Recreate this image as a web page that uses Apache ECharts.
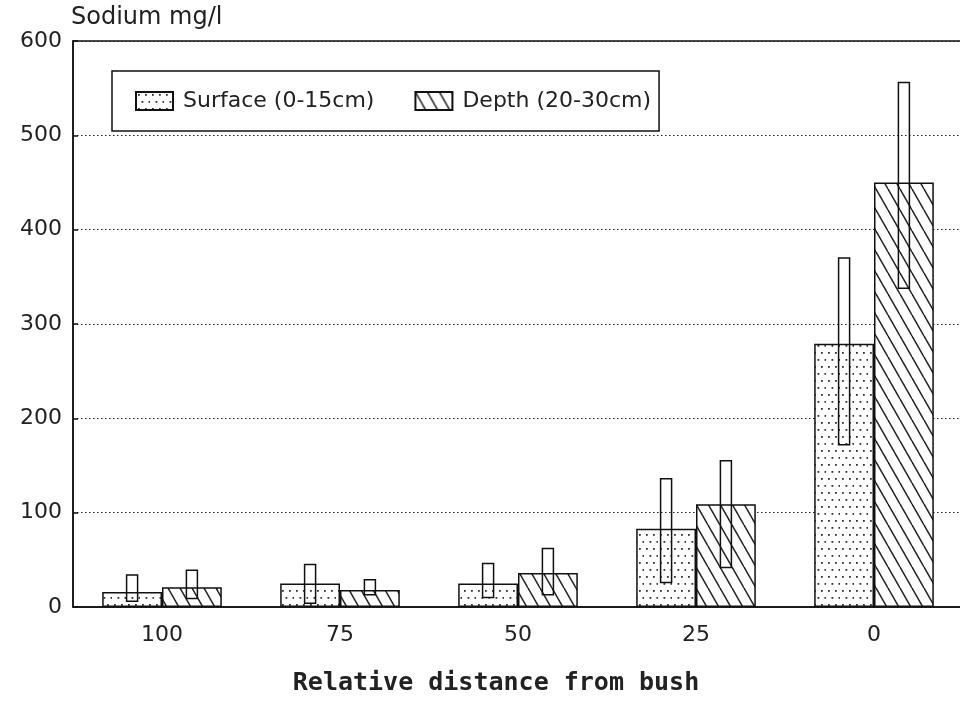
<!DOCTYPE html>
<html>
<head>
<meta charset="utf-8">
<script src="https://cdn.jsdelivr.net/npm/echarts@6/dist/echarts.min.js"></script>
<style>html,body{margin:0;padding:0;background:#fff}#c{width:960px;height:706px}</style>
</head>
<body>
<div id="c"></div>
<script>
const categories = ['100', '75', '50', '25', '0'];
const surface = [16, 25, 25, 83, 279];
const depth = [21, 18, 36, 109, 450];
const surfaceLow = [6, 4, 10, 26, 172];
const surfaceHigh = [34, 45, 46, 136, 370];
const depthLow = [9, 13, 13, 42, 338];
const depthHigh = [39, 29, 62, 155, 556];
const yTicks = [0, 100, 200, 300, 400, 500, 600];

function dotPattern() {
  const c = document.createElement('canvas');
  c.width = 14; c.height = 14;
  const g = c.getContext('2d');
  g.fillStyle = '#fff'; g.fillRect(0, 0, 14, 14);
  g.fillStyle = '#333';
  [[2, 2], [9, 2], [5.5, 9], [12.5, 9]].forEach(p => { g.fillRect(p[0], p[1], 1.8, 1.8); });
  return { image: c, repeat: 'repeat' };
}
function hatchPattern() {
  const w = 12, h = 21;
  const c = document.createElement('canvas');
  c.width = w; c.height = h;
  const g = c.getContext('2d');
  g.fillStyle = '#fff'; g.fillRect(0, 0, w, h);
  g.strokeStyle = '#222'; g.lineWidth = 1.5;
  [-w, 0, w].forEach(x0 => { g.beginPath(); g.moveTo(x0, 0); g.lineTo(x0 + w, h); g.stroke(); });
  return { image: c, repeat: 'repeat' };
}

const BAR_FRAC = 0.336;
function errRender(sign) {
  return function (params, api) {
    const idx = api.value(0);
    const lo = api.coord([idx, api.value(1)]);
    const hi = api.coord([idx, api.value(2)]);
    const band = api.size([1, 0])[0];
    const cx = lo[0] + sign * band * BAR_FRAC / 2;
    const w = 11;
    return {
      type: 'rect',
      shape: { x: cx - w / 2, y: hi[1], width: w, height: lo[1] - hi[1] },
      style: { fill: 'none', stroke: '#111', lineWidth: 1.5 },
      z2: 10
    };
  };
}

const chart = echarts.init(document.getElementById('c'), null, { renderer: 'canvas' });
const font = 'DejaVu Sans';
chart.setOption({
  animation: false,
  backgroundColor: '#fff',
  textStyle: { fontFamily: font },
  grid: { left: 73, top: 41, width: 890, bottom: 99, outerBoundsMode: 'none', containLabel: false,
    show: true, borderColor: '#111', borderWidth: 1.5, backgroundColor: 'transparent' },
  legend: {
    data: ['Surface (0-15cm)', 'Depth (20-30cm)'],
    left: 112, top: 71,
    padding: [19, 8, 19, 23],
    icon: 'rect',
    itemGap: 40, itemWidth: 37, itemHeight: 18,
    borderColor: '#111', borderWidth: 1.5,
    backgroundColor: '#fff',
    textStyle: { fontSize: 22, color: '#222', fontFamily: font, padding: [2, 0, 0, 5] }
  },
  xAxis: {
    type: 'category', data: categories,
    axisLine: { lineStyle: { color: '#111', width: 1.5 } },
    axisTick: { show: false },
    axisLabel: { fontSize: 22, color: '#222', margin: 17, fontFamily: font }
  },
  yAxis: {
    type: 'value', min: yTicks[0], max: yTicks[yTicks.length - 1], interval: 100,
    axisLine: { show: true, lineStyle: { color: '#111', width: 1.5 } },
    axisTick: { show: true, inside: true, length: 5, lineStyle: { color: '#111', width: 1.5 } },
    axisLabel: { fontSize: 22, color: '#222', margin: 11, fontFamily: font },
    splitLine: { show: true, lineStyle: { color: '#222', type: [1.5, 2.5], width: 1.2 } }
  },
  graphic: [
    { type: 'text', x: 71, y: 18, style: { text: 'Sodium mg/l', font: '24px "DejaVu Sans"', fill: '#222', textAlign: 'left', textVerticalAlign: 'middle' } },
    { type: 'text', x: 496, y: 683, style: { text: 'Relative distance from bush', font: 'bold 25px "DejaVu Sans Mono"', fill: '#222', textAlign: 'center', textVerticalAlign: 'middle' } }
  ],
  series: [
    { name: 'Surface (0-15cm)', type: 'bar', data: surface, barWidth: (BAR_FRAC * 100) + '%', barGap: '0%',
      itemStyle: { color: dotPattern(), borderColor: '#111', borderWidth: 1.5 } },
    { name: 'Depth (20-30cm)', type: 'bar', data: depth, barWidth: (BAR_FRAC * 100) + '%', barGap: '0%',
      itemStyle: { color: hatchPattern(), borderColor: '#111', borderWidth: 1.5 } },
    { name: 'surfErr', type: 'custom', z: 5, renderItem: errRender(-1),
      data: categories.map((c, i) => [i, surfaceLow[i], surfaceHigh[i]]) },
    { name: 'depthErr', type: 'custom', z: 5, renderItem: errRender(1),
      data: categories.map((c, i) => [i, depthLow[i], depthHigh[i]]) }
  ]
});
</script>
</body>
</html>
